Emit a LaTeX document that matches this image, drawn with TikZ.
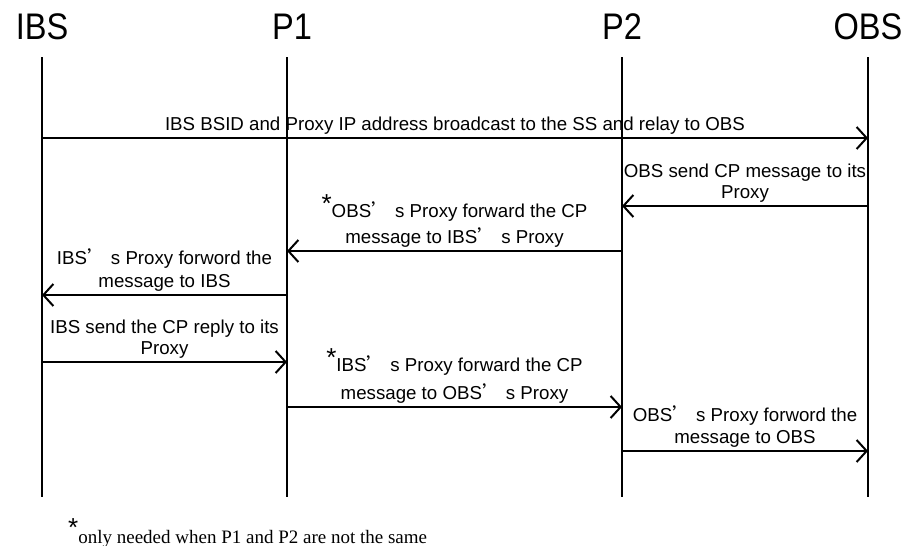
\documentclass[tikz,border=0pt]{standalone}
\usepackage{fontspec}
\setmainfont{Liberation Sans}
\newfontfamily\titlefont[FakeStretch=0.88]{Liberation Sans}
\newfontfamily\notefont{Liberation Serif}
\newfontfamily\cjk{Noto Sans CJK SC}
\usepackage{tikz}
\usetikzlibrary{arrows.meta}
\newcommand{\apos}{{\cjk ’}\ }
\newcommand{\st}[1][5pt]{\raisebox{#1}{\rmfamily\fontsize{26}{26}\selectfont *}}

\begin{document}
\begin{tikzpicture}[x=1pt,y=-1pt,
    msg/.style={line width=2pt,-{Straight Barb[length=10pt,width=22pt]}},
    lbl/.style={align=center,font=\fontsize{18.7}{21}\selectfont,text depth=4pt,inner sep=0pt,above=2.5pt}]
    \useasboundingbox (0,0) rectangle (906,546);
    \foreach \n/\t/\x/\tx in {ibs/IBS/42/42,p1/P1/287/292,p2/P2/622/622,obs/OBS/868/868} {
        \node[font=\titlefont\fontsize{37}{37}\selectfont] (\n) at (\tx,26.5) {\t};
        \coordinate (\n top) at (\x,57);
        \coordinate (\n bot) at (\x,497);
        \draw[line width=1.5pt] (\n top) -- (\n bot);
    }
    \draw[msg] (ibstop |- 0,138) -- (obstop |- 0,138)
        node[lbl,midway] {IBS BSID and Proxy IP address broadcast to the SS and relay to OBS};
    \draw[msg] (obstop |- 0,206) -- (p2top |- 0,206)
        node[lbl,midway] {OBS send CP message to its\\Proxy};
    \draw[msg] (p2top |- 0,251) -- (p1top |- 0,251)
        node[lbl,midway] {\st OBS\apos s Proxy forward the CP\\[5pt]message to IBS\apos s Proxy};
    \draw[msg] (p1top |- 0,295) -- (ibstop |- 0,295)
        node[lbl,midway] {IBS\apos s Proxy forword the\\[2pt]message to IBS};
    \draw[msg] (ibstop |- 0,362) -- (p1top |- 0,362)
        node[lbl,midway] {IBS send the CP reply to its\\Proxy};
    \draw[msg] (p1top |- 0,407) -- (p2top |- 0,407)
        node[lbl,midway] {\st IBS\apos s Proxy forward the CP\\[7pt]message to OBS\apos s Proxy};
    \draw[msg] (p2top |- 0,451) -- (obstop |- 0,451)
        node[lbl,midway] {OBS\apos s Proxy forword the\\[1pt]message to OBS};
    \node[font=\notefont\fontsize{19}{19}\selectfont,anchor=base west,inner sep=0pt] (note) at (68,543)
        {\st[7pt]only needed when P1 and P2 are not the same};
\end{tikzpicture}
\end{document}
